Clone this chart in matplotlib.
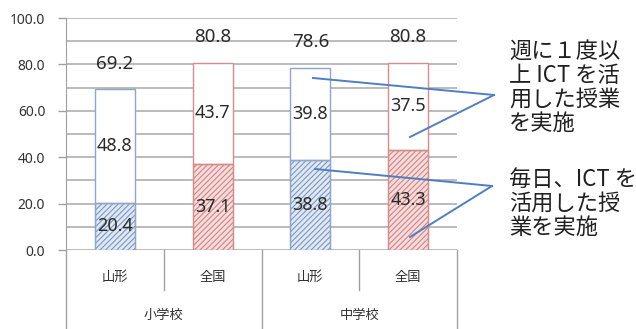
import matplotlib
matplotlib.use("Agg")
import matplotlib.pyplot as plt
import numpy as np

plt.rcParams['font.family'] = ['Noto Sans CJK JP', 'DejaVu Sans']
plt.rcParams['hatch.linewidth'] = 0.8

# data
regions = ["山形", "全国", "山形", "全国"]
schools = ["小学校", "中学校"]
daily = [20.4, 37.1, 38.8, 43.3]          # 毎日、ICTを活用した授業を実施
weekly_extra = [48.8, 43.7, 39.8, 37.5]   # 週に1度以上（毎日を除く）
totals = [69.2, 80.8, 78.6, 80.8]
yticks = [0, 20, 40, 60, 80, 100]

W, H = 636, 329
fig = plt.figure(figsize=(W / 100, H / 100), dpi=100)
ax = fig.add_axes([66 / W, (H - 250) / H, (457 - 66) / W, (250 - 18) / H])

x = np.arange(len(regions))
bw = 0.41
edge_cols = ["#8ea6c8", "#d58c8c", "#8ea6c8", "#d58c8c"]
fill_cols = ["#dfe8f3", "#f6dcdc", "#dfe8f3", "#f6dcdc"]
hatch_cols = ["#7d97c0", "#d08585", "#7d97c0", "#d08585"]
num_font = ["Noto Sans", "DejaVu Sans"]

for i in x:
    ax.bar(i, daily[i], bw, color=fill_cols[i], edgecolor=hatch_cols[i],
           hatch="//////", linewidth=0.8, zorder=3)
    ax.bar(i, daily[i], bw, facecolor="none", edgecolor=edge_cols[i],
           linewidth=1.0, zorder=4)
    ax.bar(i, weekly_extra[i], bw, bottom=daily[i], color="white",
           edgecolor=edge_cols[i], linewidth=1.0, zorder=3)
    ax.text(i, daily[i] / 2, f"{daily[i]:.1f}", ha="center", va="center",
            fontsize=13, color="#2a2a2a", family=num_font, zorder=5)
    ax.text(i, daily[i] + weekly_extra[i] / 2, f"{weekly_extra[i]:.1f}",
            ha="center", va="center", fontsize=13, color="#2a2a2a",
            family=num_font, zorder=5)
    ax.text(i, totals[i] + 11, f"{totals[i]:.1f}", ha="center", va="center",
            fontsize=13.5, color="#2a2a2a", family=num_font, zorder=5)

ax.set_xlim(-0.5, 3.5)
ax.set_ylim(0, 100)
ax.set_yticks(yticks)
ax.set_yticklabels([f"{v:.1f}" for v in yticks], fontsize=10, color="#333333",
                   family=num_font)
ax.set_yticks(np.arange(0, 101, 10), minor=True)
ax.tick_params(axis="y", which="major", length=6, width=1, color="#a0a0a0", pad=9)
ax.tick_params(axis="y", which="minor", length=0)
ax.set_xticks([])
ax.grid(axis="y", which="both", color="#a8a8a8", linewidth=1.1, zorder=0)
ax.set_axisbelow(True)
for s in ["top", "right", "bottom"]:
    ax.spines[s].set_visible(False)
ax.spines["left"].set_color("#a0a0a0")

# category axis below the plot
below = (H - 250) / (250 - 18)
short = 40 / (250 - 18)
trans = ax.get_xaxis_transform()
for xv, depth in [(-0.5, below), (0.5, short), (1.5, below), (2.5, short), (3.5, below)]:
    ax.plot([xv, xv], [0, -depth], transform=trans, color="#a0a0a0",
            linewidth=1.0, clip_on=False)
for i, r in enumerate(regions):
    ax.text(i, -27 / 232, r, transform=trans, ha="center", va="center",
            fontsize=9.5, color="#303030")
for j, s in enumerate(schools):
    ax.text(2 * j + 0.5, -65 / 232, s, transform=trans, ha="center", va="center",
            fontsize=9.5, color="#303030")

# callout notes
def px(xp, yp):
    return xp / W, 1 - yp / H

fig.text(*px(509, 40), "週に１度以\n上 ICT を活\n用した授業\nを実施", ha="left", va="top",
         fontsize=16, linespacing=1.05, color="#202020")
fig.text(*px(509, 168), "毎日、ICT を\n活用した授\n業を実施", ha="left", va="top",
         fontsize=16, linespacing=1.05, color="#202020")

line_col = "#4f7fc0"
for (x0, y0), (x1, y1) in [((494, 95), (313, 78)), ((494, 95), (410, 137)),
                           ((492, 186), (315, 169)), ((492, 186), (410, 237))]:
    fig.add_artist(plt.Line2D([x0 / W, x1 / W], [1 - y0 / H, 1 - y1 / H],
                              color=line_col, linewidth=1.4, zorder=10))

fig.savefig("out.png", dpi=100, facecolor="white")
